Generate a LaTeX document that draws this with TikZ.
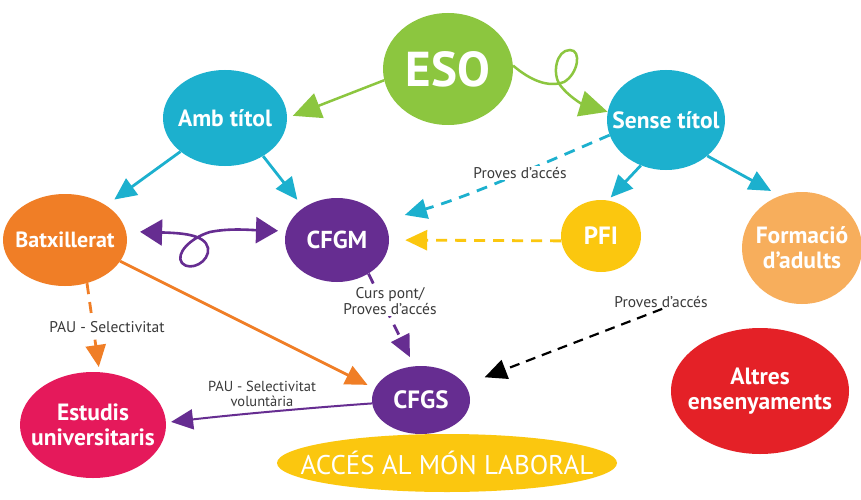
\documentclass[tikz,border=0pt]{standalone}
\usepackage{fontspec}
\setmainfont{PT Sans}
\usetikzlibrary{arrows.meta,shapes.geometric}
\definecolor{cgreen}{HTML}{8CC63F}
\definecolor{ccyan}{HTML}{1CB0CE}
\definecolor{corange}{HTML}{F07E26}
\definecolor{cpurple}{HTML}{662D91}
\definecolor{cyellow}{HTML}{FBC70F}
\definecolor{clorange}{HTML}{F7AE5C}
\definecolor{cmagenta}{HTML}{E5195B}
\definecolor{cred}{HTML}{E42127}
\definecolor{textgray}{HTML}{3A3A3A}
\begin{document}
\begin{tikzpicture}[x=1pt,y=-1pt,
  blob/.style={ellipse, inner xsep=-45pt, inner ysep=-22pt, text=white, align=center,
    font=\bfseries\fontsize{23.5}{25}\selectfont},
  lbl/.style={font=\fontsize{15.5}{16}\selectfont, text=textgray, align=center,
    inner sep=1pt, fill=white},
  conn/.style={line width=2.8pt, -{Triangle[length=22pt,width=20pt]}},
  dsh/.style={dash pattern=on 11pt off 8pt}]
\fill[white] (0,0) rectangle (861,500);
\useasboundingbox (0,0) rectangle (861,500);

% nodes
\node[blob, fill=cgreen, minimum width=130pt, minimum height=112pt,
  font=\bfseries\fontsize{49}{49}\selectfont] (eso) at (448,69) {ESO};
\node[blob, fill=ccyan, minimum width=124pt, minimum height=96pt] (amb) at (225,118) {Amb títol};
\node[blob, fill=ccyan, minimum width=118pt, minimum height=100pt] (sense) at (666,120) {Sense títol};
\node[blob, fill=corange, minimum width=124pt, minimum height=92pt,
  font=\bfseries\fontsize{22}{24}\selectfont] (bat) at (65,240) {Batxillerat};
\node[blob, fill=cpurple, minimum width=104pt, minimum height=84pt,
  font=\bfseries\fontsize{24.5}{25}\selectfont] (cfgm) at (337,240) {CFGM};
\node[blob, fill=cyellow, minimum width=80pt, minimum height=72pt,
  font=\bfseries\fontsize{25}{25}\selectfont] (pfi) at (601,236) {PFI};
\node[blob, fill=clorange, minimum width=120pt, minimum height=112pt] (form) at (802,248) {Formació\\d’adults};
\node[blob, fill=cmagenta, minimum width=146pt, minimum height=106pt] (est) at (93,425) {Estudis\\universitaris};
\node[blob, fill=cpurple, minimum width=98pt, minimum height=68pt,
  font=\bfseries\fontsize{25}{25}\selectfont] (cfgs) at (421,400) {CFGS};
\node[blob, fill=cyellow, minimum width=340pt, minimum height=58pt, inner xsep=-100pt,
  font=\fontsize{27}{27}\selectfont] (acc) at (447,463) {ACCÉS AL MÓN LABORAL};
\node[blob, fill=cred, minimum width=178pt, minimum height=126pt] (altres) at (760,391) {Altres\\ensenyaments};

% connectors
\draw[conn, cgreen, line width=2.5pt, -{Triangle[length=28pt,width=26pt]}, shorten >=6pt] (eso.190) -- (amb.0);
\draw[conn, cgreen, line width=2.5pt, -{Triangle[length=28pt,width=26pt]}]
  (eso.3) .. controls (530,80) and (548,88) .. (564,82)
  .. controls (578,74) and (582,50) .. (570,50)
  .. controls (556,50) and (552,74) .. (560,85)
  .. controls (568,96) and (582,104) .. (sense.172);
\draw[conn, ccyan, shorten >=10pt] (amb.217) -- (bat.40);
\draw[conn, ccyan, shorten >=10pt] (amb.-45) -- (cfgm.136);
\draw[conn, ccyan, dsh, shorten >=22pt] (sense.195) .. controls (540,165) and (470,196) .. (cfgm.22);
\draw[conn, ccyan, shorten >=4pt] (sense.241) -- (pfi.79);
\draw[conn, ccyan, shorten >=10pt] (sense.-41) -- (form.113);
\draw[conn, cyellow, dsh, shorten >=16pt] (pfi.187) -- (cfgm.0);
\draw[conn, cpurple, line width=2.6pt,
  {Triangle[length=22pt,width=26pt]}-{Triangle[length=22pt,width=26pt]},
  shorten <=14pt, shorten >=8pt]
  (bat.8) .. controls (180,233) and (205,234) .. (208,248)
  .. controls (210,262) and (190,272) .. (182,263)
  .. controls (175,254) and (190,238) .. (210,232)
  .. controls (230,228) and (250,230) .. (cfgm.170);
\draw[conn, corange, dsh, shorten >=5pt] (bat.-63) -- (est.83);
\draw[conn, corange, shorten >=8pt] (bat.-21) -- (cfgs.166);
\draw[conn, cpurple, dsh, shorten >=10pt] (cfgm.-47) -- (cfgs.101);
\node[lbl, fill=none] (lblk) at (661,302) {Proves d’accés};
\draw[conn, black, line width=2.2pt, dash pattern=on 10pt off 7pt, shorten >=21pt]
  (lblk.-80) -- (cfgs.19);
\draw[conn, cpurple, line width=2pt, shorten >=5pt]
  (cfgs.184) .. controls (320,407) and (240,414) .. (est.2);

% labels
\node[lbl] (lcy) at (520,173) {Proves d’accés};
\node[lbl] (lcp) at (390,301) {Curs pont/\\Proves d’accés};
\node[lbl] (lpau) at (107,327) {PAU - Selectivitat};
\node[lbl, fill=none, font=\fontsize{14.5}{14.5}\selectfont] (lpv) at (262,394) {PAU - Selectivitat\\voluntària};
\end{tikzpicture}
\end{document}
